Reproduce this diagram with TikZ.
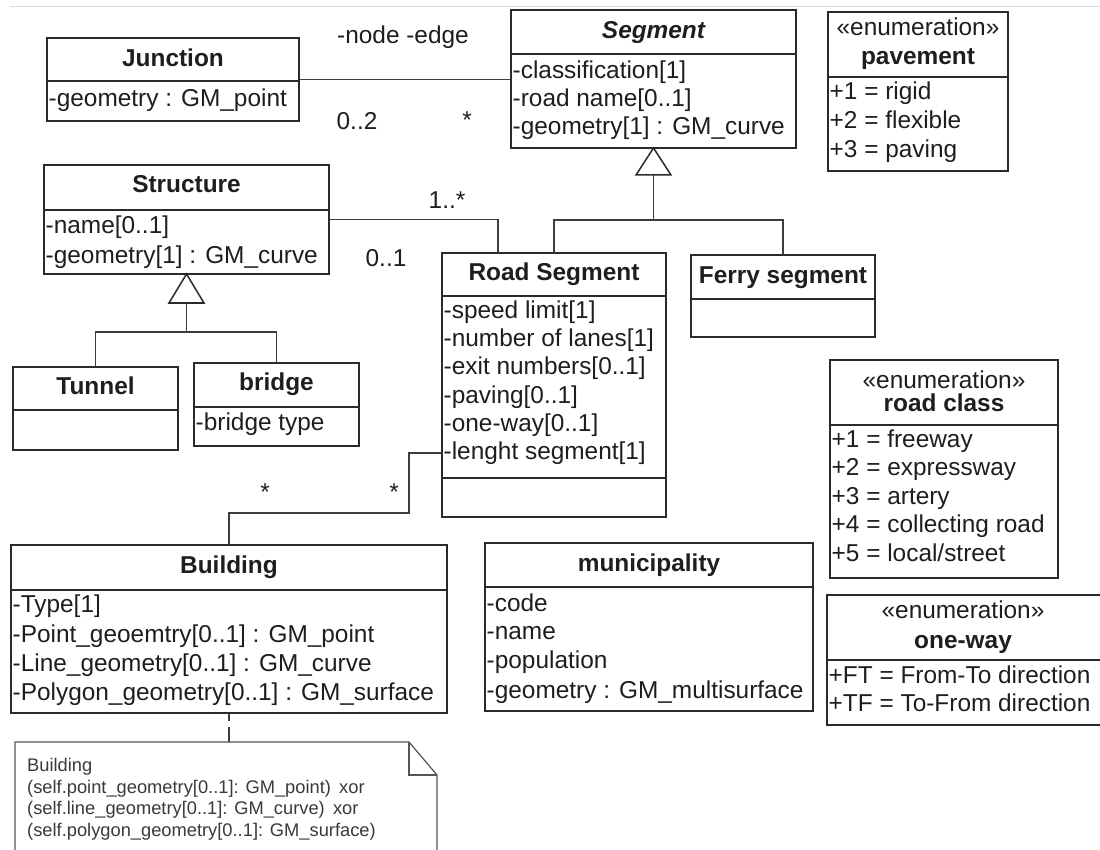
\documentclass[tikz,border=0pt]{standalone}
\usepackage{fontspec}
\setmainfont{Liberation Sans}
\usetikzlibrary{calc}

\definecolor{ink}{HTML}{1E1E1E}
\definecolor{framecol}{HTML}{2A2A2A}
\definecolor{wirecol}{HTML}{3C3C3C}
\definecolor{notecol}{HTML}{555555}
\definecolor{notetext}{HTML}{3A3A3A}
\definecolor{rulecol}{HTML}{DDDDDD}

\tikzset{
  classframe/.style={draw=framecol, line width=1.6pt, fill=white, inner sep=0pt, outer sep=0pt, anchor=north west},
  divider/.style={draw=framecol, line width=1.6pt},
  txt/.style={font=\fontsize{24.4}{29}\selectfont, text=ink, inner sep=0pt, text height=18pt, text depth=5pt},
  classtitle/.style={txt, font=\fontsize{24.4}{29}\selectfont\bfseries},
  attr/.style={txt, anchor=west},
  wire/.style={draw=wirecol, line width=1.3pt},
  hollow/.style={draw=framecol, line width=1.5pt, fill=white, line join=miter},
  notebody/.style={draw=notecol, line width=1.2pt},
}

% class box: name, left, top, right, bottom, divider y
\newcommand\umlclass[6]{%
  \node[classframe, minimum width={(#4)-(#2)}, minimum height={(#5)-(#3)}] (#1) at (#2,#3) {};
  \draw[divider] (#2,#6) -- (#4,#6);
}

\begin{document}
\begin{tikzpicture}[x=1pt, y=-1pt]
\useasboundingbox (0,0) rectangle (1100,850);
\fill[white] (0,0) rectangle (1100,850);
\draw[rulecol, line width=1pt] (10,7) -- (1100,7);

% ---- classes ----
\umlclass{junction}{47}{38}{299}{121}{81}
\node[classtitle] (junction-t) at (173,60) {Junction};
\node[attr] (junction-a1) at (48.5,100) {-geometry : GM\_point};

\umlclass{segment}{511}{10}{796}{148}{54}
\node[classtitle, font=\fontsize{24.4}{29}\selectfont\bfseries\itshape] (segment-t) at (653.5,32) {Segment};
\node[attr] (segment-a1) at (512.5,72) {-classification[1]};
\node[attr] (segment-a2) at (512.5,100) {-road name[0..1]};
\node[attr] (segment-a3) at (512.5,128) {-geometry[1] : GM\_curve};

\umlclass{pavement}{828}{12}{1008}{171}{77}
\node[txt] (pavement-s) at (918,29) {«enumeration»};
\node[classtitle] (pavement-t) at (918,58) {pavement};
\node[attr] (pavement-a1) at (829.5,93) {+1 = rigid};
\node[attr] (pavement-a2) at (829.5,122) {+2 = flexible};
\node[attr] (pavement-a3) at (829.5,151) {+3 = paving};

\umlclass{structure}{44}{165}{329}{274}{210}
\node[classtitle] (structure-t) at (186.5,186) {Structure};
\node[attr] (structure-a1) at (45.5,227) {-name[0..1]};
\node[attr] (structure-a2) at (45.5,257) {-geometry[1] : GM\_curve};

\umlclass{tunnel}{13}{367}{178}{450}{410}
\node[classtitle] (tunnel-t) at (95.5,388) {Tunnel};

\umlclass{bridge}{194}{363}{359}{446}{407}
\node[classtitle] (bridge-t) at (276.5,384) {bridge};
\node[attr] (bridge-a1) at (195.5,424) {-bridge type};

\umlclass{road}{442}{253}{666}{517}{296}
\draw[divider] (442,478) -- (666,478);
\node[classtitle] (road-t) at (554,274) {Road Segment};
\node[attr] (rs1) at (443.5,312) {-speed limit[1]};
\node[attr] (rs2) at (443.5,340) {-number of lanes[1]};
\node[attr] (rs3) at (443.5,368) {-exit numbers[0..1]};
\node[attr] (rs4) at (443.5,397) {-paving[0..1]};
\node[attr] (rs5) at (443.5,425) {-one-way[0..1]};
\node[attr] (rs6) at (443.5,453) {-lenght segment[1]};

\umlclass{ferry}{691}{255}{875}{337}{299}
\node[classtitle] (ferry-t) at (783,277) {Ferry segment};

\umlclass{roadclass}{830}{360}{1058}{578}{425}
\node[txt] (roadclass-s) at (944,382) {«enumeration»};
\node[classtitle] (roadclass-t) at (944,405) {road class};
\node[attr] (rc1) at (831.5,441) {+1 = freeway};
\node[attr] (rc2) at (831.5,469) {+2 = expressway};
\node[attr] (rc3) at (831.5,498) {+3 = artery};
\node[attr] (rc4) at (831.5,526) {+4 = collecting road};
\node[attr] (rc5) at (831.5,555) {+5 = local/street};

\umlclass{oneway}{827}{595}{1104}{725}{660}
\node[txt] (oneway-s) at (963,612) {«enumeration»};
\node[classtitle] (oneway-t) at (963,642) {one-way};
\node[attr] (ow1) at (828.5,677) {+FT = From-To direction};
\node[attr] (ow2) at (828.5,705) {+TF = To-From direction};

\umlclass{building}{11}{545}{447}{713}{590}
\node[classtitle] (building-t) at (229,567) {Building};
\node[attr] (bd1) at (12.5,606) {-Type[1]};
\node[attr] (bd2) at (12.5,636) {-Point\_geoemtry[0..1] : GM\_point};
\node[attr] (bd3) at (12.5,665) {-Line\_geometry[0..1] : GM\_curve};
\node[attr] (bd4) at (12.5,694) {-Polygon\_geometry[0..1] : GM\_surface};

\umlclass{municipality}{485}{543}{813}{711}{587}
\node[classtitle] (municipality-t) at (649,565) {municipality};
\node[attr] (mu1) at (486.5,605) {-code};
\node[attr] (mu2) at (486.5,633) {-name};
\node[attr] (mu3) at (486.5,662) {-population};
\node[attr] (mu4) at (486.5,692) {-geometry : GM\_multisurface};

% ---- constraint note ----
\node[inner sep=0pt, outer sep=0pt, minimum width=422, minimum height=120, anchor=north west] (note) at (15,742) {};
\filldraw[notebody, fill=white] (note.north west) -- ($(note.north east)+(-28,0)$) -- ($(note.north east)+(0,33)$) -- (note.south east) -- (note.south west) -- cycle;
\draw[notebody] ($(note.north east)+(-28,0)$) |- ($(note.north east)+(0,33)$);
\node[anchor=north west, align=left, inner sep=0pt, text=notetext, font=\fontsize{18.3}{21.7}\selectfont] (note-t) at (27,758)
  {Building\\
   (self.point\_geometry[0..1]: GM\_point)\hspace{0.45em}xor\\
   (self.line\_geometry[0..1]: GM\_curve)\hspace{0.45em}xor\\
   (self.polygon\_geometry[0..1]: GM\_surface)};

% ---- associations ----
\draw[wire] (junction.east) -- (junction.east -| segment.west);
\node[txt] (lbl-role) at (403,37) {-node -edge};
\node[txt] (lbl-02) at (357,123) {0..2};
\node[txt] (lbl-star1) at (467,122) {*};

\draw[wire] (structure.east) -| ($(road.north west)+(56,0)$);
\node[txt] (lbl-1n) at (447,202) {1..*};
\node[txt] (lbl-01) at (386,260) {0..1};

\draw[wire] (road.west |- rs6) -- ++(-33,0) |- ($(building.north)+(0,-32)$) -- (building.north);
\node[txt] (lbl-star2) at (265,494) {*};
\node[txt] (lbl-star3) at (394,494) {*};

\draw[wire, dash pattern=on 8pt off 6pt on 16pt off 6pt] (building.south) -- (building.south |- note.north);

% ---- generalizations ----
\coordinate (segbar) at ($(segment.south)+(0,72)$);
\draw[wire] ($(segment.south)+(0,27)$) -- (segbar);
\draw[wire] (road.north) |- (segbar) -| (ferry.north);
\draw[hollow] (segment.south) -- ++(-17.5,27) -- ++(35,0) -- cycle;

\coordinate (strbar) at ($(structure.south)+(0,58)$);
\draw[wire] ($(structure.south)+(0,29)$) -- (strbar);
\draw[wire] (tunnel.north) |- (strbar) -| (bridge.north);
\draw[hollow] (structure.south) -- ++(-17.5,29) -- ++(35,0) -- cycle;
\end{tikzpicture}
\end{document}
